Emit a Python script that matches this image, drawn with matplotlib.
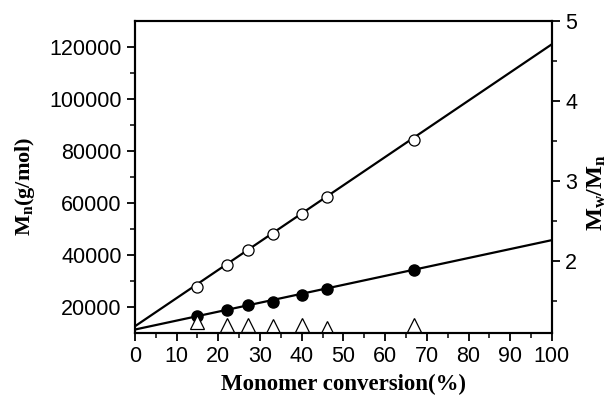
import matplotlib.pyplot as plt
from matplotlib.ticker import MultipleLocator, FixedLocator

plt.rcParams['mathtext.fontset'] = 'custom'
plt.rcParams['mathtext.rm'] = 'Liberation Serif'
plt.rcParams['mathtext.bf'] = 'Liberation Serif:bold'

# conversion (%) of the samples
conv = [15, 22, 27, 33, 40, 46, 67]
# Mn, open circles and filled circles
mn_open = [27800, 35900, 41700, 48000, 55800, 62300, 84300]
mn_filled = [16400, 18600, 20650, 22000, 24600, 27000, 34000]
# Mw/Mn, triangles (right axis)
pdi = [1.24, 1.20, 1.20, 1.18, 1.20, 1.165, 1.20]

# fitted straight lines, end points
fit_x = [0, 100]
fit_open = [12500, 121000]
fit_filled = [11250, 45650]

fig = plt.figure(figsize=(6.16, 4.0), dpi=100)
ax = fig.add_axes([0.219, 0.168, 0.677, 0.780])
ax2 = ax.twinx()

ax.plot(fit_x, fit_open, 'k-', lw=1.6)
ax.plot(fit_x, fit_filled, 'k-', lw=1.6)
ax.plot(conv, mn_open, 'o', mfc='white', mec='black', ms=8, mew=0.9)
ax.plot(conv, mn_filled, 'o', mfc='black', mec='black', ms=8)
ax2.plot(conv, pdi, '^', mfc='white', mec='black', ms=10, mew=0.9)

ax.set_xlim(0, 100)
ax.set_ylim(10000, 130000)
ax2.set_ylim(1.1, 5)

ax.xaxis.set_major_locator(MultipleLocator(10))
ax.xaxis.set_minor_locator(MultipleLocator(5))
ax.yaxis.set_major_locator(MultipleLocator(20000))
ax.yaxis.set_minor_locator(FixedLocator([30000, 50000, 70000, 90000, 110000]))
ax2.yaxis.set_major_locator(MultipleLocator(1))
ax2.yaxis.set_minor_locator(FixedLocator([1.5, 2.5, 3.5, 4.5]))

for a in (ax, ax2):
    for s in a.spines.values():
        s.set_linewidth(1.5)
    a.tick_params(which='major', direction='out', length=6, width=1.3, labelsize=15.5)
    a.tick_params(which='minor', direction='out', length=3.5, width=1.1)
    a.tick_params(axis='x', which='both', top=False, labeltop=False)
    for lab in a.get_xticklabels() + a.get_yticklabels():
        lab.set_family('Liberation Sans')

ax.set_xlabel('Monomer conversion(%)', family='Liberation Serif', weight='bold', size=16.5, labelpad=5)
ax.set_ylabel(r'$\mathbf{M_n}$(g/mol)', family='Liberation Serif', weight='bold', size=16)
ax2.set_ylabel(r'$\mathbf{M_w/M_n}$', family='Liberation Serif', weight='bold', size=17.5)
ax.yaxis.set_label_coords(-0.235, 0.47)
ax2.yaxis.set_label_coords(1.08, 0.45)

fig.savefig('out.png', dpi=100)
